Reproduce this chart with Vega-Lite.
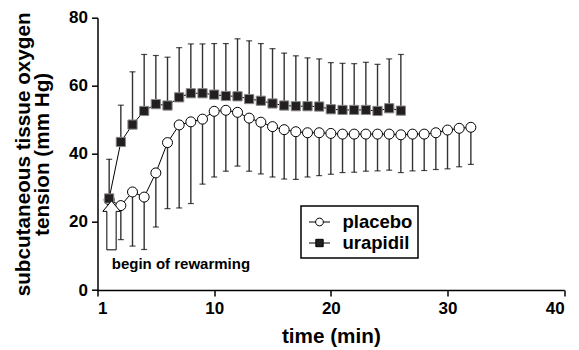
{
  "$schema": "https://vega.github.io/schema/vega-lite/v6.json",
  "width": 466.7,
  "height": 272.3,
  "autosize": {"type": "none"},
  "padding": {"left": 97.5, "top": 17.7, "right": 14.8, "bottom": 60},
  "background": "white",
  "config": {
    "view": {"stroke": null},
    "font": "Liberation Sans",
    "axis": {
      "grid": false,
      "domainColor": "black",
      "domainWidth": 1.5,
      "tickColor": "black",
      "tickWidth": 1.5,
      "tickSize": 6,
      "labelFont": "Liberation Sans",
      "labelFontWeight": "bold",
      "labelFontSize": 17,
      "labelColor": "black",
      "labelOverlap": false,
      "labelSeparation": -100,
      "labelBound": false,
      "titleFont": "Liberation Sans",
      "titleFontWeight": "bold",
      "titleFontSize": 20.7,
      "titleColor": "black"
    },
    "legend": {
      "title": null,
      "orient": "none",
      "legendX": 203.5,
      "legendY": 188.3,
      "padding": 5,
      "symbolSize": 441,
      "symbolOffset": 2.5,
      "symbolOpacity": 1,
      "labelOffset": 12,
      "rowPadding": 0,
      "labelFont": "Liberation Sans",
      "labelFontWeight": "bold",
      "labelFontSize": 18.5,
      "labelColor": "black",
      "strokeColor": "black",
      "symbolStrokeColor": "black",
      "symbolStrokeWidth": 1
    }
  },
  "datasets": {
    "series": [
      {"series": "placebo", "time": 1, "mean": 26.5, "bound": null},
      {"series": "placebo", "time": 2, "mean": 24.8, "bound": 14.8},
      {"series": "placebo", "time": 3, "mean": 28.8, "bound": 12.9},
      {"series": "placebo", "time": 4, "mean": 27.3, "bound": 11.9},
      {"series": "placebo", "time": 5, "mean": 34.4, "bound": 18.5},
      {"series": "placebo", "time": 6, "mean": 43.3, "bound": 23.9},
      {"series": "placebo", "time": 7, "mean": 48.5, "bound": 24.1},
      {"series": "placebo", "time": 8, "mean": 49.4, "bound": 25.4},
      {"series": "placebo", "time": 9, "mean": 50.2, "bound": 31.1},
      {"series": "placebo", "time": 10, "mean": 52.5, "bound": 33.2},
      {"series": "placebo", "time": 11, "mean": 52.8, "bound": 34.9},
      {"series": "placebo", "time": 12, "mean": 52.2, "bound": 36.4},
      {"series": "placebo", "time": 13, "mean": 50.5, "bound": 34.9},
      {"series": "placebo", "time": 14, "mean": 49.3, "bound": 34.1},
      {"series": "placebo", "time": 15, "mean": 48.0, "bound": 33.2},
      {"series": "placebo", "time": 16, "mean": 47.1, "bound": 32.6},
      {"series": "placebo", "time": 17, "mean": 46.5, "bound": 32.5},
      {"series": "placebo", "time": 18, "mean": 46.2, "bound": 33.2},
      {"series": "placebo", "time": 19, "mean": 46.2, "bound": 33.6},
      {"series": "placebo", "time": 20, "mean": 46.0, "bound": 34.0},
      {"series": "placebo", "time": 21, "mean": 45.8, "bound": 34.5},
      {"series": "placebo", "time": 22, "mean": 45.8, "bound": 34.6},
      {"series": "placebo", "time": 23, "mean": 45.8, "bound": 34.9},
      {"series": "placebo", "time": 24, "mean": 45.8, "bound": 35.0},
      {"series": "placebo", "time": 25, "mean": 45.8, "bound": 35.2},
      {"series": "placebo", "time": 26, "mean": 45.6, "bound": 34.5},
      {"series": "placebo", "time": 27, "mean": 45.8, "bound": 35.0},
      {"series": "placebo", "time": 28, "mean": 45.8, "bound": 35.1},
      {"series": "placebo", "time": 29, "mean": 46.2, "bound": 35.4},
      {"series": "placebo", "time": 30, "mean": 47.0, "bound": 35.6},
      {"series": "placebo", "time": 31, "mean": 47.5, "bound": 36.2},
      {"series": "placebo", "time": 32, "mean": 47.8, "bound": 36.9},
      {"series": "urapidil", "time": 1, "mean": 26.9, "bound": 38.4},
      {"series": "urapidil", "time": 2, "mean": 43.5, "bound": 54.3},
      {"series": "urapidil", "time": 3, "mean": 48.6, "bound": 64.1},
      {"series": "urapidil", "time": 4, "mean": 52.6, "bound": 69.2},
      {"series": "urapidil", "time": 5, "mean": 54.6, "bound": 68.9},
      {"series": "urapidil", "time": 6, "mean": 54.2, "bound": 68.4},
      {"series": "urapidil", "time": 7, "mean": 56.6, "bound": 71.2},
      {"series": "urapidil", "time": 8, "mean": 57.8, "bound": 72.3},
      {"series": "urapidil", "time": 9, "mean": 57.8, "bound": 72.3},
      {"series": "urapidil", "time": 10, "mean": 57.4, "bound": 72.4},
      {"series": "urapidil", "time": 11, "mean": 57.0, "bound": 72.4},
      {"series": "urapidil", "time": 12, "mean": 56.9, "bound": 73.8},
      {"series": "urapidil", "time": 13, "mean": 56.1, "bound": 73.2},
      {"series": "urapidil", "time": 14, "mean": 55.6, "bound": 72.4},
      {"series": "urapidil", "time": 15, "mean": 54.8, "bound": 70.9},
      {"series": "urapidil", "time": 16, "mean": 54.2, "bound": 69.6},
      {"series": "urapidil", "time": 17, "mean": 54.0, "bound": 68.8},
      {"series": "urapidil", "time": 18, "mean": 54.0, "bound": 68.2},
      {"series": "urapidil", "time": 19, "mean": 53.9, "bound": 67.9},
      {"series": "urapidil", "time": 20, "mean": 53.1, "bound": 66.8},
      {"series": "urapidil", "time": 21, "mean": 52.9, "bound": 66.6},
      {"series": "urapidil", "time": 22, "mean": 52.9, "bound": 66.5},
      {"series": "urapidil", "time": 23, "mean": 52.9, "bound": 66.9},
      {"series": "urapidil", "time": 24, "mean": 52.6, "bound": 66.3},
      {"series": "urapidil", "time": 25, "mean": 53.4, "bound": 67.9},
      {"series": "urapidil", "time": 26, "mean": 52.7, "bound": 69.2}
    ],
    "arrow": [{"time": 1.2, "value": 19.0}],
    "note": [{"time": 1.22, "value": 6.3, "label": "begin of rewarming"}]
  },
  "layer": [
    {
      "data": {"name": "series"},
      "transform": [{"filter": "datum.bound != null"}],
      "mark": {"type": "rule", "color": "#333", "strokeWidth": 1.4},
      "encoding": {
        "x": {"field": "time", "type": "quantitative", "scale": {"domain": [0, 40]},
          "axis": {"values": [0, 10, 20, 30, 40], "labelExpr": "datum.value == 0 ? '1' : datum.label", "title": "time (min)", "titlePadding": 10, "labelPadding": 4}},
        "y": {"field": "mean", "type": "quantitative", "scale": {"domain": [0, 80]},
          "axis": {"values": [0, 10, 20, 30, 40, 50, 60, 70, 80], "tickCount": 8, "labelOverlap": false, "labelSeparation": -100, "title": ["subcutaneous tissue oxygen", "tension (mm Hg)"], "titlePadding": 16, "titleLineHeight": 19, "labelPadding": 4}},
        "y2": {"field": "bound"}
      }
    },
    {
      "data": {"name": "series"},
      "transform": [{"filter": "datum.bound != null"}],
      "mark": {"type": "tick", "orient": "horizontal", "color": "black", "size": 6, "thickness": 1.2},
      "encoding": {
        "x": {"field": "time", "type": "quantitative"},
        "y": {"field": "bound", "type": "quantitative"}
      }
    },
    {
      "data": {"name": "series"},
      "mark": {"type": "line", "color": "black", "strokeWidth": 1},
      "encoding": {
        "x": {"field": "time", "type": "quantitative"},
        "y": {"field": "mean", "type": "quantitative"},
        "detail": {"field": "series"}
      }
    },
    {
      "data": {"name": "series"},
      "transform": [{"filter": "datum.series === 'placebo'"}],
      "mark": {"type": "point", "shape": "circle", "filled": true, "fill": "white", "stroke": "black", "strokeWidth": 1, "opacity": 1, "size": 100},
      "encoding": {
        "x": {"field": "time", "type": "quantitative"},
        "y": {"field": "mean", "type": "quantitative"}
      }
    },
    {
      "data": {"name": "series"},
      "transform": [{"filter": "datum.series === 'urapidil'"}],
      "mark": {"type": "point", "shape": "square", "filled": true, "fill": "#231f20", "stroke": "#8a8a8a", "strokeWidth": 1, "opacity": 1, "size": 85},
      "encoding": {
        "x": {"field": "time", "type": "quantitative"},
        "y": {"field": "mean", "type": "quantitative"}
      }
    },
    {
      "data": {"name": "series"},
      "transform": [{"filter": "datum.time < 0"}],
      "mark": {"type": "point", "filled": true, "stroke": "black", "strokeWidth": 1, "opacity": 1},
      "encoding": {
        "x": {"field": "time", "type": "quantitative"},
        "y": {"field": "mean", "type": "quantitative"},
        "shape": {"field": "series", "type": "nominal",
          "scale": {"domain": ["placebo", "urapidil"], "range": ["M-1,0L-0.37,0M0.37,0L1,0M0.37,0A0.37,0.37,0,1,1,-0.37,0A0.37,0.37,0,1,1,0.37,0Z", "M-1,0L-0.35,0M0.35,0L1,0M-0.35,-0.35L0.35,-0.35L0.35,0.35L-0.35,0.35Z"]},
          "legend": {
            "encoding": {
              "legend": {"strokeWidth": {"value": 1.5}},
              "symbols": {"stroke": {"value": "black"}, "strokeWidth": {"value": 1}, "opacity": {"value": 1}}
            }
          }
        },
        "fill": {"field": "series", "type": "nominal",
          "scale": {"domain": ["placebo", "urapidil"], "range": ["white", "#231f20"]},
          "legend": {
            "encoding": {
              "legend": {"strokeWidth": {"value": 1.5}},
              "symbols": {"stroke": {"value": "black"}, "strokeWidth": {"value": 1}, "opacity": {"value": 1}}
            }
          }
        }
      }
    },
    {
      "data": {"name": "arrow"},
      "mark": {"type": "point", "filled": true, "fill": "white", "stroke": "black", "strokeWidth": 1, "opacity": 1, "size": 2401,
        "shape": "M0,-1L0.355,-0.57L0.19,-0.57L0.19,1L-0.19,1L-0.19,-0.57L-0.355,-0.57Z"},
      "encoding": {
        "x": {"field": "time", "type": "quantitative"},
        "y": {"field": "value", "type": "quantitative"}
      }
    },
    {
      "data": {"name": "note"},
      "mark": {"type": "text", "align": "left", "baseline": "alphabetic", "font": "Liberation Sans", "fontWeight": "bold", "fontSize": 15, "color": "black"},
      "encoding": {
        "x": {"field": "time", "type": "quantitative"},
        "y": {"field": "value", "type": "quantitative"},
        "text": {"field": "label"}
      }
    }
  ]
}
